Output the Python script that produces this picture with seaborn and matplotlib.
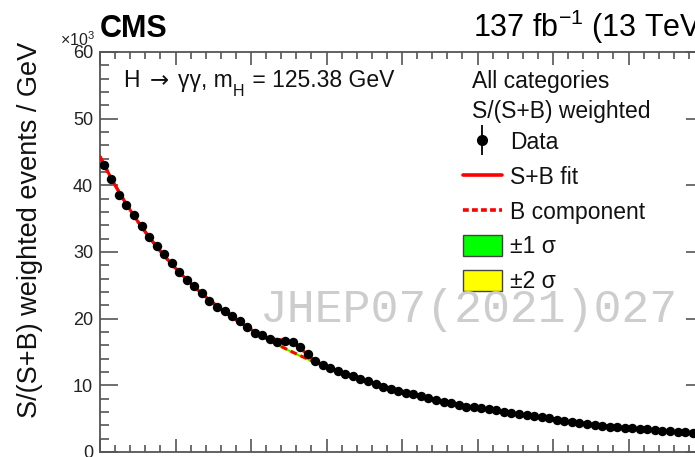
import numpy as np
import pandas as pd
import matplotlib
matplotlib.use("Agg")
import matplotlib.pyplot as plt
import seaborn as sns
from matplotlib.lines import Line2D
from matplotlib.patches import Patch
from matplotlib.ticker import MultipleLocator, NullFormatter

# Diphoton invariant mass bins (GeV), 1 GeV wide
mass_bin_centers = np.arange(100.5, 180.0, 1.0)

# S/(S+B)-weighted events per GeV, in units of 10^3
weighted_events_k = [
    43.0, 41.0, 38.5, 37.05, 35.55, 33.9, 32.3, 30.9, 29.7, 28.4,
    27.05, 25.75, 24.85, 23.9, 22.7, 21.8, 21.2, 20.4, 19.7, 18.7,
    17.85, 17.5, 16.9, 16.5, 16.65, 16.55, 15.8, 14.65, 13.65, 13.1,
    12.55, 12.1, 11.7, 11.4, 11.0, 10.6, 10.2, 9.8, 9.45, 9.2,
    8.8, 8.65, 8.4, 8.05, 7.8, 7.55, 7.4, 7.05, 6.8, 6.8,
    6.65, 6.4, 6.3, 6.05, 5.8, 5.7, 5.55, 5.4, 5.3, 5.05,
    4.8, 4.65, 4.45, 4.3, 4.2, 4.05, 3.9, 3.8, 3.7, 3.6,
    3.55, 3.45, 3.4, 3.3, 3.2, 3.1, 3.05, 3.0, 2.9, 2.85,
]

higgs_mass = 125.38      # GeV
signal_width = 1.7       # GeV, width of the Gaussian signal shape
band_1sigma_k = 0.12     # half-width of the +-1 sigma band on B (10^3)
band_2sigma_k = 0.25     # half-width of the +-2 sigma band on B (10^3)

y_ticks = [0, 10, 20, 30, 40, 50, 60]

# ---------------------------------------------------------------- fit
x = mass_bin_centers
y = np.asarray(weighted_events_k)
u = (x - 140.0) / 40.0
side = np.abs(x - higgs_mass) > 4.0
bkg_coef = np.polyfit(u[side], np.log(y[side]), 4)


def background(m):
    return np.exp(np.polyval(bkg_coef, (m - 140.0) / 40.0))


def signal_shape(m):
    return np.exp(-0.5 * ((m - higgs_mass) / signal_width) ** 2)


win = np.abs(x - higgs_mass) < 6.0
g = signal_shape(x[win])
sig_amp = np.sum((y[win] - background(x[win])) * g) / np.sum(g * g)

grid = np.linspace(100.0, 180.0, 1601)
bkg = background(grid)
fit = bkg + sig_amp * signal_shape(grid)

data_df = pd.DataFrame({"mgg": x, "events": y})
curve_df = pd.DataFrame({"mgg": grid, "sb": fit, "b": bkg})

# ---------------------------------------------------------------- style
sns.set_theme(style="ticks")
plt.rcParams["font.family"] = ["Liberation Sans", "DejaVu Sans"]
plt.rcParams["mathtext.fontset"] = "custom"
plt.rcParams["mathtext.rm"] = "Liberation Sans"
plt.rcParams["mathtext.it"] = "Liberation Sans:italic"
plt.rcParams["mathtext.bf"] = "Liberation Sans:bold"

W, H = 695, 457
fig = plt.figure(figsize=(W / 100, H / 100), dpi=100)
fig.patch.set_facecolor("white")


def fx(px):
    return px / W


def fy(py):
    return (H - py) / H


ax_l, ax_r, ax_t, ax_b = 100, 704, 52, 452
ax = fig.add_axes([fx(ax_l), fy(ax_b), (ax_r - ax_l) / W, (ax_b - ax_t) / H])
ax.set_facecolor("white")

ax.fill_between(grid, bkg - band_2sigma_k, bkg + band_2sigma_k,
                color="#ffff00", lw=0, zorder=1)
ax.fill_between(grid, bkg - band_1sigma_k, bkg + band_1sigma_k,
                color="#00ff00", lw=0, zorder=2)
sns.lineplot(data=curve_df, x="mgg", y="b", ax=ax, color="#ff0000",
             lw=2.2, linestyle=(0, (2.2, 1.3)), zorder=3)
sns.lineplot(data=curve_df, x="mgg", y="sb", ax=ax, color="#ff0000",
             lw=2.2, zorder=4)
sns.scatterplot(data=data_df, x="mgg", y="events", ax=ax, color="black",
                s=46, edgecolor="black", linewidth=0, zorder=5)

ax.set_xlim(100, 180)
ax.set_ylim(0, 60)
ax.set_xlabel("")
ax.set_ylabel("")
ax.set_yticks(y_ticks)
ax.set_yticklabels([str(t) for t in y_ticks])
ax.xaxis.set_major_locator(MultipleLocator(10))
ax.xaxis.set_minor_locator(MultipleLocator(2))
ax.yaxis.set_minor_locator(MultipleLocator(2))
ax.xaxis.set_major_formatter(NullFormatter())

axis_col = "#555555"
for sp in ax.spines.values():
    sp.set_visible(True)
    sp.set_color(axis_col)
    sp.set_linewidth(1.3)
ax.tick_params(axis="both", which="both", direction="in", top=True,
               right=True, color=axis_col, width=1.2)
ax.tick_params(axis="y", which="major", length=13, labelsize=13,
               pad=5, labelcolor="#222222")
ax.tick_params(axis="y", which="minor", length=6.7)
ax.tick_params(axis="x", which="major", length=9.5)
ax.tick_params(axis="x", which="minor", length=5)

# ---------------------------------------------------------------- texts
fig.text(fx(30), fy(418), "S/(S+B) weighted events / GeV", rotation=90,
         ha="center", va="bottom", fontsize=19.5, color="#111111")
fig.text(fx(100), fy(37), "CMS", fontsize=22, fontweight="bold",
         ha="left", va="baseline", color="black")
fig.text(fx(60), fy(46), r"×10$^{\mathregular{3}}$", fontsize=11.5,
         ha="left", va="baseline", color="#222222")
fig.text(fx(473), fy(37), r"137 fb$^{\mathregular{-1}}$ (13 TeV)",
         fontsize=22, ha="left", va="baseline", color="black")

# Process label, laid out piece by piece so the arrow and the
# subscript can use their own font and offset
renderer = fig.canvas.get_renderer()


def put_piece(x_px, base_px, s, size, **kw):
    t = fig.text(fx(x_px), fy(base_px), s, fontsize=size, ha="left",
                 va="baseline", color="#111111", **kw)
    return t.get_window_extent(renderer).x1


title_base = 87
cx = 123
cx = put_piece(cx, title_base, "H", 16.5)
cx = put_piece(cx + 10, title_base, "→", 16.5, family="DejaVu Sans")
cx = put_piece(cx + 9, title_base, "γγ, m", 16.5)
cx = put_piece(cx + 0.5, title_base + 9, "H", 11.5)
put_piece(cx + 2, title_base, " = 125.38 GeV", 16.5)

fig.text(fx(472), fy(88), "All categories", fontsize=16.5, ha="left",
         va="baseline", color="#111111")
fig.text(fx(472), fy(118), "S/(S+B) weighted", fontsize=16.5, ha="left",
         va="baseline", color="#111111")

handles = [
    (Line2D([], [], marker="|", markersize=22, color="black",
            linestyle="none", markeredgewidth=1.3),
     Line2D([], [], marker="o", markersize=7, color="black",
            linestyle="none")),
    Line2D([], [], color="#ff0000", lw=2.6),
    Line2D([], [], color="#ff0000", lw=2.6, linestyle=(0, (1.6, 0.9))),
    Patch(facecolor="#00ff00", edgecolor="#444444", lw=1.0),
    Patch(facecolor="#ffff00", edgecolor="#444444", lw=1.0),
]
labels = ["Data", "S+B fit", "B component", "±1 σ", "±2 σ"]
leg = ax.legend(handles, labels, loc="upper left",
                bbox_to_anchor=(fx(463), fy(131)),
                bbox_transform=fig.transFigure, frameon=False,
                fontsize=16.5, handlelength=1.7, handleheight=1.05,
                handletextpad=0.35, labelspacing=0.49, borderpad=0,
                borderaxespad=0)
for t in leg.get_texts():
    t.set_color("#111111")

fig.text(fx(260), fy(322), "JHEP07(2021)027", family="Liberation Mono",
         fontsize=33.5, color="#cdcdcd", ha="left", va="baseline",
         zorder=10)

fig.savefig("out.png", dpi=100)
